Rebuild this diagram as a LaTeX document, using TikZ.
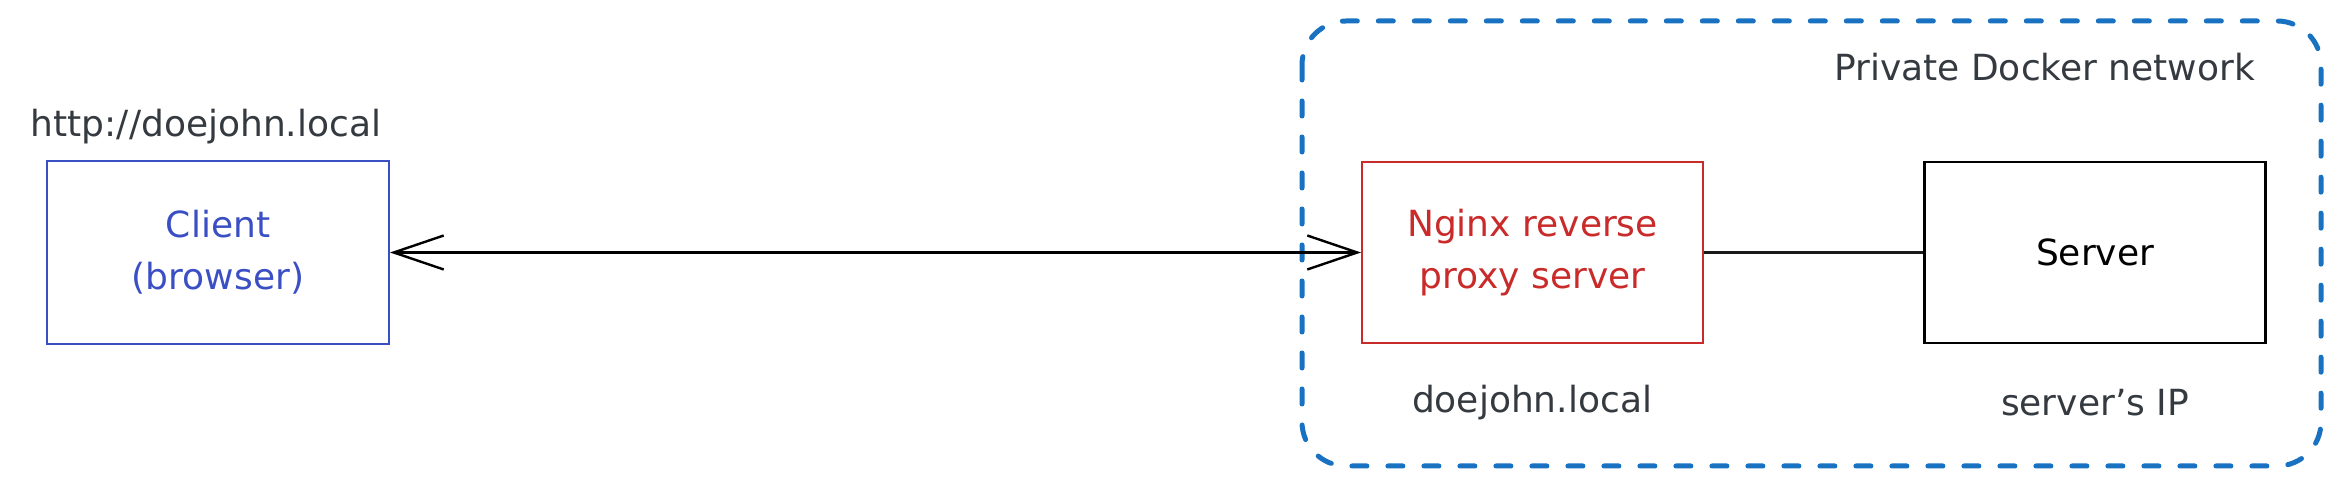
\documentclass[tikz,border=0pt]{standalone}
\usepackage{fontspec}
\setmainfont{DejaVu Sans}
\usetikzlibrary{arrows.meta}
\definecolor{clientblue}{RGB}{59,79,196}
\definecolor{proxyred}{RGB}{201,42,42}
\definecolor{netblue}{RGB}{25,113,194}
\definecolor{inkgray}{RGB}{52,58,64}
\pgfdeclarelayer{background}
\pgfsetlayers{background,main}

\begin{document}
\begin{tikzpicture}[x=0.5pt,y=-0.5pt,
  box/.style={draw,line width=1pt,minimum width=170.5pt,minimum height=90.5pt,align=center,font=\fontsize{18}{26}\selectfont},
  tag/.style={text=inkgray,font=\fontsize{18}{22}\selectfont},
  link/.style={line width=1.2pt,{Straight Barb[length=25pt,width=17pt]}-{Straight Barb[length=25pt,width=17pt]}}]
\useasboundingbox (0,0) rectangle (2343,485);
\begin{pgfonlayer}{background}
\draw[netblue,line width=2.5pt,dash pattern=on 7.5pt off 10.5pt,line cap=round,rounded corners=22pt] (1302,21) rectangle (2321,466);
\node[tag,anchor=east] (netname) at (2262,67) {Private Docker network};
\end{pgfonlayer}
\node[box,clientblue,text=clientblue,minimum width=171pt,minimum height=91.5pt] (client) at (218,252.5) {Client\\(browser)};
\node[tag] (clienturl) at (206,127) {http://doejohn.local};
\node[box,proxyred,text=proxyred] (nginx) at (1532.5,252.5) {Nginx reverse\\proxy server};
\node[box,line width=1.2pt] (server) at (2095,252.5) {Server};
\node[tag] (nginxname) at (1532,403) {doejohn.local};
\node[tag] (serverip) at (2095,403) {server's IP};
\draw[link] (client) -- (nginx);
\draw[line width=1.7pt,black!90] (nginx) -- (server);
\end{tikzpicture}
\end{document}
